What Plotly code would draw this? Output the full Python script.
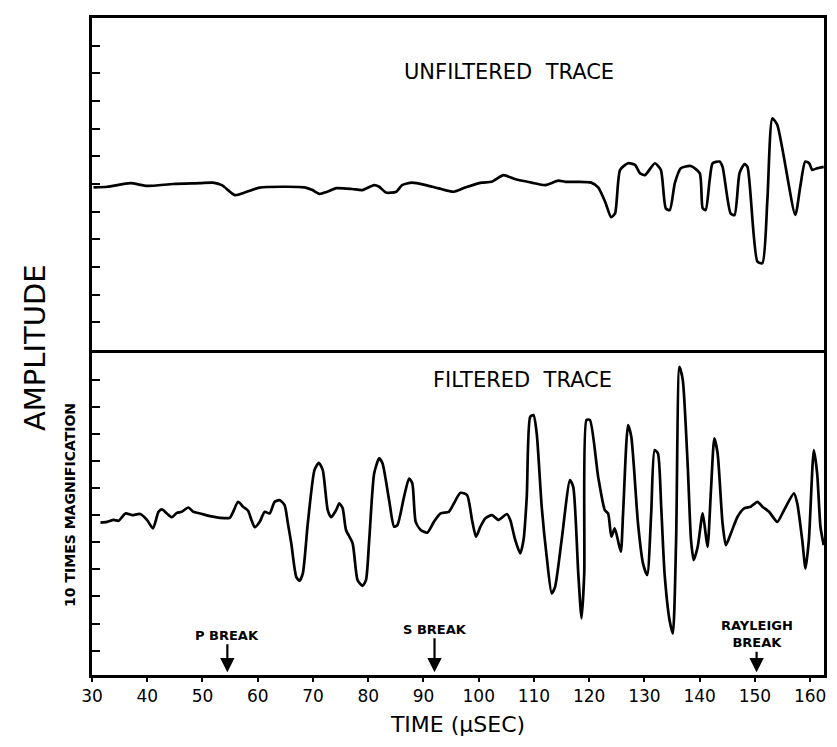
import plotly.graph_objects as go
from plotly.subplots import make_subplots

# ---- data (time in microseconds, amplitude in tick units) ----
unf_time = [30.27, 32.79, 36.94, 40.0, 44.68, 49.55, 51.89, 53.51, 55.86, 58.02, 60.36, 64.50,
            68.47, 69.91, 71.17, 72.61, 74.23, 77.12, 78.92, 81.08, 81.98, 83.24, 85.05, 86.13,
            87.93, 90.45, 92.79, 95.50, 97.66, 100.54, 102.34, 104.50, 106.67, 109.55, 112.07,
            114.41, 115.68, 118.02, 120.36, 121.62, 122.88, 123.96, 124.68, 125.59, 127.03,
            128.29, 129.19, 130.09, 131.89, 132.97, 133.87, 134.59, 135.50, 136.58, 138.38,
            140.0, 140.54, 141.08, 141.80, 142.34, 143.60, 144.14, 145.59, 146.31, 147.21,
            148.11, 148.65, 150.45, 151.35, 152.25, 153.15, 154.05, 157.30, 158.20, 159.10,
            159.82, 160.36, 161.26, 162.45]
unf_amp = [-0.12, -0.10, 0.03, -0.07, 0.0, 0.03, 0.05, -0.04, -0.40, -0.28, -0.13, -0.10,
           -0.12, -0.22, -0.36, -0.28, -0.15, -0.18, -0.22, -0.04, -0.10, -0.31, -0.28, -0.04,
           0.05, -0.04, -0.16, -0.28, -0.12, 0.05, 0.08, 0.32, 0.17, 0.05, -0.04,
           0.12, 0.08, 0.08, 0.05, -0.12, -0.64, -1.20, -1.06, 0.51, 0.75,
           0.69, 0.39, 0.32, 0.75, 0.51, -0.88, -0.94, 0.03, 0.57, 0.65,
           0.39, -0.88, -0.94, 0.14, 0.75, 0.81, 0.62, -1.06, -1.12, 0.39,
           0.72, 0.62, -2.81, -2.86, -0.58, 2.37, 2.13, -1.12, -0.10, 0.81,
           0.75, 0.51, 0.57, 0.62]

filt_time = [31.53, 32.74, 33.93, 34.83, 36.04, 37.24, 38.74, 39.95, 41.03, 42.04, 42.65, 43.55,
             44.45, 45.35, 46.25, 47.44, 48.34, 49.55, 51.35, 53.15, 54.95, 55.55, 56.45, 57.35,
             58.25, 58.86, 59.46, 60.36, 61.26, 62.16, 63.06, 63.96, 64.86, 65.46, 66.07, 66.97,
             67.57, 68.16, 69.06, 70.27, 71.05, 71.77, 72.67, 73.28, 74.18, 74.77, 75.37, 75.98,
             77.17, 78.07, 78.97, 79.59, 80.18, 81.08, 81.98, 82.58, 83.78, 84.68, 85.28,
             86.49, 87.39, 87.98, 88.59, 89.50, 90.68, 91.89, 93.10, 94.59, 95.50, 96.70, 97.89,
             98.79, 99.51, 100.31, 101.21, 102.40, 103.60, 105.10, 105.71, 106.61, 107.51, 108.11,
             108.70, 109.32, 109.91, 110.50, 111.40, 112.31, 113.21, 113.82, 115.01, 116.52,
             117.11, 118.02, 118.61, 119.10, 119.51, 120.13, 121.62, 122.83, 123.42, 124.02,
             124.63, 125.71, 126.13, 127.03, 127.62, 128.83, 129.73, 130.50, 131.22, 131.84,
             132.43, 133.03, 133.64, 134.54, 135.14, 135.73, 136.34, 136.94, 137.84, 138.43,
             138.92, 139.64, 140.54, 141.14, 141.44, 142.04, 142.65, 143.24, 144.14, 144.74,
             145.64, 146.85, 148.05, 149.24, 150.45, 151.35, 152.56, 154.05, 155.26, 157.06,
             157.66, 158.56, 159.15, 159.76, 160.66, 161.26, 161.86, 162.45]
filt_amp = [-0.28, -0.25, -0.18, -0.21, 0.06, 0.0, 0.04, -0.18, -0.49, 0.12, 0.21, 0.06,
            -0.08, 0.08, 0.12, 0.28, 0.12, 0.06, -0.04, -0.10, -0.10, 0.12, 0.49, 0.31,
            0.16, -0.18, -0.45, -0.25, 0.12, 0.06, 0.49, 0.55, 0.37, -0.31, -1.04, -2.28,
            -2.42, -2.15, -0.31, 1.66, 1.93, 1.66, 0.18, -0.08, 0.18, 0.43, 0.25, -0.55,
            -1.04, -2.40, -2.61, -2.40, -0.92, 1.54, 2.09, 1.91, 0.55, -0.43, -0.37,
            0.68, 1.35, 1.17, -0.25, -0.55, -0.65, -0.25, 0.06, 0.12, 0.43, 0.82, 0.74,
            -0.18, -0.80, -0.43, -0.12, 0.0, -0.18, 0.04, -0.18, -0.92, -1.41, -0.92,
            0.68, 3.63, 3.69, 3.01, 0.31, -1.54, -2.89, -2.65, -0.92, 1.29,
            1.04, -2.15, -3.81, -2.15, 3.51, 3.51, 1.41, 0.18, 0.06, -0.80,
            -0.49, -1.35, 0.06, 3.32, 2.89, -0.31, -1.78, -2.21, 0.06, 2.40,
            2.28, 0.31, -2.15, -3.87, -4.37, -0.92, 5.47, 4.98, 1.78, -0.92,
            -1.66, -1.17, 0.06, -0.80, -1.17, 0.92, 2.83, 2.28, -0.31, -1.11,
            -0.68, -0.06, 0.25, 0.31, 0.49, 0.31, 0.12, -0.25, 0.18, 0.80,
            0.43, -0.92, -1.97, -0.92, 2.40, 1.54, -0.43, -1.11]

x_ticks = [30, 40, 50, 60, 70, 80, 90, 100, 110, 120, 130, 140, 150, 160]
break_labels = ["P BREAK", "S BREAK", "RAYLEIGH<br>BREAK"]
break_times = [54.5, 92.0, 150.3]

FONT = "DejaVu Sans"
NB = "\u00a0"

fig = make_subplots(rows=2, cols=1, shared_xaxes=True, vertical_spacing=0,
                    row_heights=[332, 325])

line_style = dict(color="black", width=2.7, shape="spline", smoothing=0.6)
fig.add_trace(go.Scatter(x=unf_time, y=unf_amp, mode="lines", line=line_style,
                         showlegend=False, hoverinfo="skip"), row=1, col=1)
fig.add_trace(go.Scatter(x=filt_time, y=filt_amp, mode="lines", line=line_style,
                         showlegend=False, hoverinfo="skip"), row=2, col=1)

axis_common = dict(showline=True, linecolor="black", linewidth=2.5,
                   showgrid=False, zeroline=False)
fig.update_xaxes(range=[30, 162.5], **axis_common)
fig.update_xaxes(showticklabels=False, ticks="", mirror=True, row=1, col=1)
fig.update_xaxes(mirror=False, tickvals=x_ticks, ticks="outside", ticklen=4, tickwidth=2,
                 tickcolor="black", tickfont=dict(family=FONT, size=17, color="black"),
                 title=dict(text="TIME (μSEC)", font=dict(family=FONT, size=22, color="black"),
                            standoff=12),
                 row=2, col=1)
fig.update_yaxes(**axis_common, mirror=True, showticklabels=False, ticks="inside", ticklen=8,
                 tickwidth=2, tickcolor="black")
fig.update_yaxes(range=[-6, 6], tickvals=list(range(-5, 6)), row=1, col=1)
fig.update_yaxes(range=[-5.9, 6.09], tickvals=list(range(-5, 7)), row=2, col=1)

ann = []
ann.append(dict(text="UNFILTERED" + NB * 2 + "TRACE", x=0.569, y=0.918, xref="paper",
                yref="paper", xanchor="center", yanchor="middle", showarrow=False,
                font=dict(family=FONT, size=21, color="black")))
ann.append(dict(text="FILTERED" + NB * 2 + "TRACE", x=0.588, y=0.449, xref="paper",
                yref="paper", xanchor="center", yanchor="middle", showarrow=False,
                font=dict(family=FONT, size=21, color="black")))
ann.append(dict(text="AMPLITUDE", x=-0.078, y=0.499, xref="paper", yref="paper",
                xanchor="center", yanchor="middle",
                textangle=-90, showarrow=False, font=dict(family=FONT, size=29, color="black")))
ann.append(dict(text="<b>10 TIMES MAGNIFICATION</b>", x=-0.030, y=0.259, xref="paper",
                yref="paper", xanchor="center", yanchor="middle", textangle=-90,
                showarrow=False, font=dict(family=FONT, size=14, color="black")))
offsets = [-37, -43, -38]
for lab, t, off in zip(break_labels, break_times, offsets):
    ann.append(dict(text="<b>" + lab + "</b>", x=t, y=-5.8, xref="x2", yref="y2", ax=0, ay=off,
                    showarrow=True, arrowhead=2, arrowsize=1.3, arrowwidth=2.2,
                    arrowcolor="black", font=dict(family=FONT, size=13, color="black")))
fig.update_layout(annotations=ann, width=837, height=747,
                  margin=dict(l=92, r=10, t=18, b=72),
                  plot_bgcolor="white", paper_bgcolor="white")

fig.write_html("out.html")
